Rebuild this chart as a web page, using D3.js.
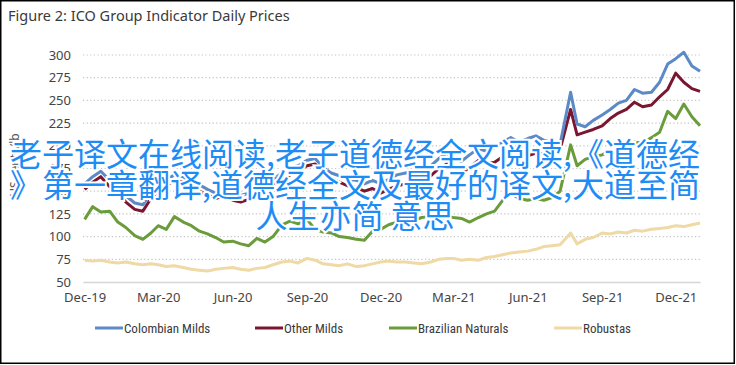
<!DOCTYPE html>
<html>
<head>
<meta charset="utf-8">
<script src="https://cdn.jsdelivr.net/npm/d3@7"></script>
<style>
  body { margin: 0; background: #fff; }
  #wrapper { width: 736px; height: 365px; }
</style>
</head>
<body>
<div id="wrapper"></div>
<script>
// data (US cents/lb)
const dates = [
    "2019-12-01", "2019-12-11", "2019-12-21",
    "2020-01-01", "2020-01-11", "2020-01-21",
    "2020-02-01", "2020-02-11", "2020-02-21",
    "2020-03-01", "2020-03-11", "2020-03-21",
    "2020-04-01", "2020-04-11", "2020-04-21",
    "2020-05-01", "2020-05-11", "2020-05-21",
    "2020-06-01", "2020-06-11", "2020-06-21",
    "2020-07-01", "2020-07-11", "2020-07-21",
    "2020-08-01", "2020-08-11", "2020-08-21",
    "2020-09-01", "2020-09-11", "2020-09-21",
    "2020-10-01", "2020-10-11", "2020-10-21",
    "2020-11-01", "2020-11-11", "2020-11-21",
    "2020-12-01", "2020-12-11", "2020-12-21",
    "2021-01-01", "2021-01-11", "2021-01-21",
    "2021-02-01", "2021-02-11", "2021-02-21",
    "2021-03-01", "2021-03-11", "2021-03-21",
    "2021-04-01", "2021-04-11", "2021-04-21",
    "2021-05-01", "2021-05-11", "2021-05-21",
    "2021-06-01", "2021-06-11", "2021-06-21",
    "2021-07-01", "2021-07-11", "2021-07-24",
    "2021-08-01", "2021-08-11", "2021-08-21",
    "2021-09-01", "2021-09-11", "2021-09-21",
    "2021-10-01", "2021-10-11", "2021-10-21",
    "2021-11-01", "2021-11-11", "2021-11-21",
    "2021-12-01", "2021-12-11", "2021-12-21", "2021-12-31",
]

const colombianMilds = [
    158, 166, 172, 162, 155, 145, 137, 135, 148, 156, 162, 168,
    166, 160, 157, 152, 148, 151, 146, 145, 148, 154, 157, 163,
    170, 175, 178, 184, 186, 176, 170, 167, 163, 162, 158, 162,
    158, 163, 168, 170, 172, 176, 178, 186, 192, 186, 183, 190,
    197, 194, 198, 204, 209, 204, 208, 211, 206, 204, 202, 259,
    224, 221, 228, 234, 240, 247, 250, 262, 258, 259, 270, 290,
    296, 303, 288, 282,
]
const otherMilds = [
    152, 160, 166, 155, 148, 138, 130, 128, 142, 150, 156, 162,
    160, 153, 150, 146, 142, 145, 140, 138, 141, 147, 150, 156,
    163, 168, 172, 178, 180, 170, 164, 160, 156, 154, 150, 153,
    148, 152, 156, 158, 160, 163, 167, 175, 180, 172, 170, 176,
    184, 180, 182, 188, 193, 186, 189, 192, 191, 194, 196, 240,
    212, 215, 218, 222, 230, 236, 240, 248, 243, 245, 254, 262,
    280, 270, 263, 260,
]
const brazilianNaturals = [
    119, 133, 127, 128, 116, 110, 101, 97, 104, 112, 108, 122,
    116, 112, 106, 103, 99, 94, 95, 92, 90, 98, 94, 100,
    113, 117, 114, 119, 108, 105, 104, 100, 99, 97, 96, 106,
    108, 113, 116, 114, 118, 121, 122, 119, 122, 121, 120, 116,
    121, 125, 128, 140, 148, 142, 140, 142, 140, 143, 150, 201,
    178, 185, 188, 190, 195, 194, 199, 204, 203, 209, 215, 238,
    230, 246, 232, 222,
]
const robustas = [
    74, 73, 74, 72, 71, 72, 70, 69, 70, 69, 67, 68,
    66, 64, 63, 62, 64, 65, 66, 64, 63, 65, 66, 69,
    72, 73, 71, 76, 74, 70, 69, 68, 70, 67, 68, 70,
    72, 73, 72, 72, 71, 70, 72, 75, 76, 76, 74, 75,
    74, 77, 78, 80, 82, 83, 84, 86, 89, 90, 91, 104,
    92, 97, 99, 104, 103, 105, 104, 107, 106, 108, 109, 110,
    112, 111, 113, 115,
]

const seriesNames = ["Colombian Milds", "Other Milds", "Brazilian Naturals", "Robustas"]
const seriesColors = ["#5b8ac6", "#7a1630", "#6a9c3c", "#efd9a4"]
const yTicks = [50, 75, 100, 125, 150, 175, 200, 225, 250, 275, 300]
const xTickDates = ["2019-12-01", "2020-03-01", "2020-06-01", "2020-09-01", "2020-12-01",
    "2021-03-01", "2021-06-01", "2021-09-01", "2021-12-01"]

const overlayLines = [
    "老子译文在线阅读,老子道德经全文阅读,《道德经",
    "》第一章翻译,道德经全文及最好的译文,大道至简",
    "人生亦简 意思",
]

function drawChart() {
    const parseDate = d3.timeParse("%Y-%m-%d")
    const formatTick = d3.timeFormat("%b-%y")

    let dimensions = {
        width: 736,
        height: 365,
        margin: { top: 55, right: 36, bottom: 83, left: 83 },
    }
    dimensions.boundedWidth = dimensions.width - dimensions.margin.left - dimensions.margin.right
    dimensions.boundedHeight = dimensions.height - dimensions.margin.top - dimensions.margin.bottom

    const svg = d3.select("#wrapper")
        .append("svg")
        .attr("width", dimensions.width)
        .attr("height", dimensions.height)
        .style("font-family", "'Noto Sans', sans-serif")

    svg.append("rect")
        .attr("x", 0.75).attr("y", 0.75)
        .attr("width", dimensions.width - 2.5)
        .attr("height", dimensions.height - 2.5)
        .attr("fill", "#fff")
        .attr("stroke", "#000")
        .attr("stroke-width", 1.5)

    svg.append("text")
        .attr("x", 8).attr("y", 21)
        .attr("font-size", 14.5)
        .attr("fill", "#3a3a3a")
        .text("Figure 2: ICO Group Indicator Daily Prices")

    const bounds = svg.append("g")
        .attr("transform", `translate(${dimensions.margin.left}, ${dimensions.margin.top})`)

    const xScale = d3.scaleTime()
        .domain([parseDate("2019-11-29"), parseDate("2021-12-31")])
        .range([0, dimensions.boundedWidth])

    const yScale = d3.scaleLinear()
        .domain([50, 300])
        .range([dimensions.boundedHeight, 0])

    // dotted grid
    bounds.append("g")
        .selectAll("line")
        .data(yTicks.filter(d => d > 50))
        .join("line")
        .attr("x1", 0).attr("x2", dimensions.boundedWidth)
        .attr("y1", d => yScale(d)).attr("y2", d => yScale(d))
        .attr("stroke", "#c4c4c4")
        .attr("stroke-width", 1.2)
        .attr("stroke-dasharray", "1.2,2.4")

    // y axis
    const yAxis = bounds.append("g")
        .call(d3.axisLeft(yScale).tickValues(yTicks).tickSize(0).tickPadding(12))
    yAxis.select(".domain").remove()
    yAxis.selectAll("text")
        .attr("font-size", 13)
        .attr("fill", "#444")
        .style("font-family", "'Noto Sans', sans-serif")

    // x axis
    const xAxis = bounds.append("g")
        .attr("transform", `translate(0, ${dimensions.boundedHeight})`)
        .call(d3.axisBottom(xScale)
            .tickValues(xTickDates.map(parseDate))
            .tickFormat(formatTick)
            .tickSize(0)
            .tickPadding(11))
    xAxis.select(".domain")
        .attr("stroke", "#d6d6d6")
        .attr("stroke-width", 1.5)
    xAxis.selectAll("text")
        .attr("font-size", 13)
        .attr("fill", "#444")
        .style("font-family", "'Noto Sans', sans-serif")

    svg.append("text")
        .attr("transform", `translate(19, 165) rotate(-90)`)
        .attr("text-anchor", "middle")
        .attr("font-size", 12)
        .attr("fill", "#555")
        .text("US cents/lb")

    // lines
    const seriesValues = [colombianMilds, otherMilds, brazilianNaturals, robustas]
    const series = seriesNames.map((name, i) => ({
        name,
        color: seriesColors[i],
        values: dates.map((d, j) => ({ date: parseDate(d), value: seriesValues[i][j] })),
    }))

    const lineGenerator = d3.line()
        .x(d => xScale(d.date))
        .y(d => yScale(d.value))

    bounds.append("g")
        .selectAll("path")
        .data(series.slice().reverse())
        .join("path")
        .attr("d", d => lineGenerator(d.values))
        .attr("fill", "none")
        .attr("stroke", d => d.color)
        .attr("stroke-width", 3)
        .attr("stroke-linejoin", "round")

    // legend
    const legendX = [95, 255, 389, 554]
    const legend = svg.append("g")
        .selectAll("g")
        .data(series)
        .join("g")
        .attr("transform", (d, i) => `translate(${legendX[i]}, 328)`)
    legend.append("line")
        .attr("x1", 0).attr("x2", 28)
        .attr("stroke", d => d.color)
        .attr("stroke-width", 3)
    legend.append("text")
        .attr("x", 29).attr("y", 4.5)
        .attr("font-size", 13)
        .attr("fill", "#3a3a3a")
        .style("font-family", "'Liberation Sans Narrow', 'Roboto Condensed', sans-serif")
        .style("font-stretch", "condensed")
        .text(d => d.name)

    // overlay caption
    svg.append("g")
        .selectAll("text")
        .data(overlayLines)
        .join("text")
        .attr("x", 355)
        .attr("y", (d, i) => 166 + i * 31)
        .attr("text-anchor", "middle")
        .attr("font-size", 32)
        .attr("fill", "#1e8cf5")
        .attr("stroke", "#fff")
        .attr("stroke-width", 4)
        .attr("paint-order", "stroke")
        .style("font-family", "'Noto Sans CJK SC', sans-serif")
        .text(d => d)
}

drawChart()
</script>
</body>
</html>
